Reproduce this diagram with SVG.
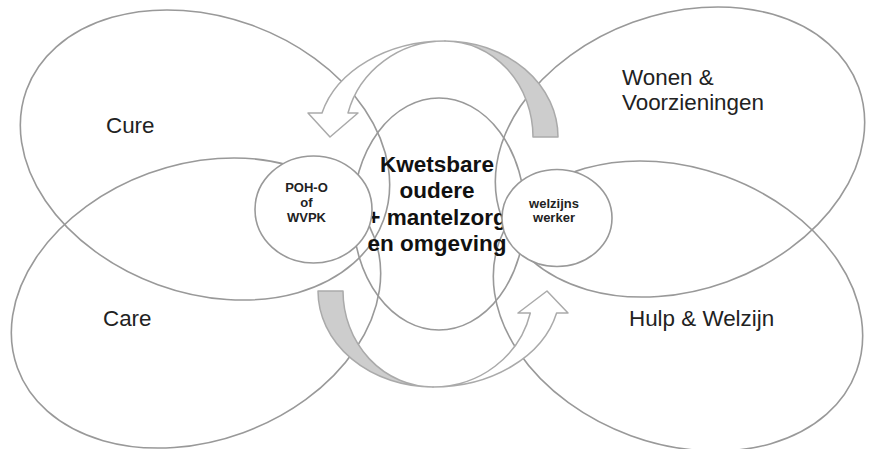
<svg xmlns="http://www.w3.org/2000/svg" width="873" height="449" viewBox="0 0 873 449">
<style>
.ring{fill:none;stroke:#999;stroke-width:1.6}
.disc{fill:#fff;stroke:#999;stroke-width:1.6}
.lbl{font-family:"Liberation Sans",Arial,sans-serif;font-size:22.4px;fill:#222}
.ctr{font-family:"Liberation Sans",Arial,sans-serif;font-size:22.5px;font-weight:bold;fill:#111;text-anchor:middle}
.sm{font-family:"Liberation Sans",Arial,sans-serif;font-size:13px;font-weight:bold;fill:#222;text-anchor:middle}
.back{fill:#cdcdcd;stroke:#aaa;stroke-width:1.5;stroke-linejoin:round}
.front{fill:#fff;stroke:#aaa;stroke-width:1.5;stroke-linejoin:round}
</style>
<rect width="873" height="449" fill="#fff"/>
<g id="cure"><ellipse class="ring" cx="205" cy="155" rx="190" ry="138" transform="rotate(20 205 155)"/><text class="lbl" x="106" y="133">Cure</text></g>
<g id="care"><ellipse class="ring" cx="196" cy="303" rx="190" ry="138" transform="rotate(-20 196 303)"/><text class="lbl" x="103" y="326">Care</text></g>
<g id="wonen"><ellipse class="ring" cx="680" cy="152" rx="190" ry="138" transform="rotate(-20 680 152)"/><text class="lbl" x="622" y="85">Wonen &amp;</text><text class="lbl" x="622" y="110">Voorzieningen</text></g>
<g id="hulp"><ellipse class="ring" cx="678" cy="306" rx="190" ry="138" transform="rotate(20 678 306)"/><text class="lbl" x="629" y="326">Hulp &amp; Welzijn</text></g>
<g id="connectors">
<path class="back" d="M445 41 A113 96 0 0 1 558 137 L533 137 A88 96 0 0 0 445 41 Z"/>
<path class="front" d="M445 41 A127 96 0 0 0 322 113 L308 113 L330 137 L358 113 L348 113 A100 96 0 0 1 445 41 Z"/>
<path class="back" d="M318 291 A115 96 0 0 0 433 387 A90 96 0 0 1 343 291 Z"/>
<path class="front" d="M433 387 A127 96 0 0 0 556.6 313 L568 313 L547 291 L518 313 L530.3 313 A100 96 0 0 1 433 387 Z"/>
</g>
<g id="center"><ellipse class="ring" cx="439" cy="214" rx="86" ry="116"/>
<text class="ctr" x="437" y="172">Kwetsbare</text>
<text class="ctr" x="437" y="198">oudere</text>
<text class="ctr" x="437" y="225">+ mantelzorg</text>
<text class="ctr" x="437" y="251">en omgeving</text></g>
<g id="poh"><ellipse class="disc" cx="313.5" cy="209.5" rx="58.5" ry="53.5"/>
<text class="sm" x="306.5" y="192">POH-O</text><text class="sm" x="306.5" y="207">of</text><text class="sm" x="306.5" y="222">WVPK</text></g>
<g id="welzijn"><ellipse class="disc" cx="557" cy="218" rx="55" ry="48.5"/>
<text class="sm" x="554" y="208">welzijns</text><text class="sm" x="554" y="222">werker</text></g>
</svg>
